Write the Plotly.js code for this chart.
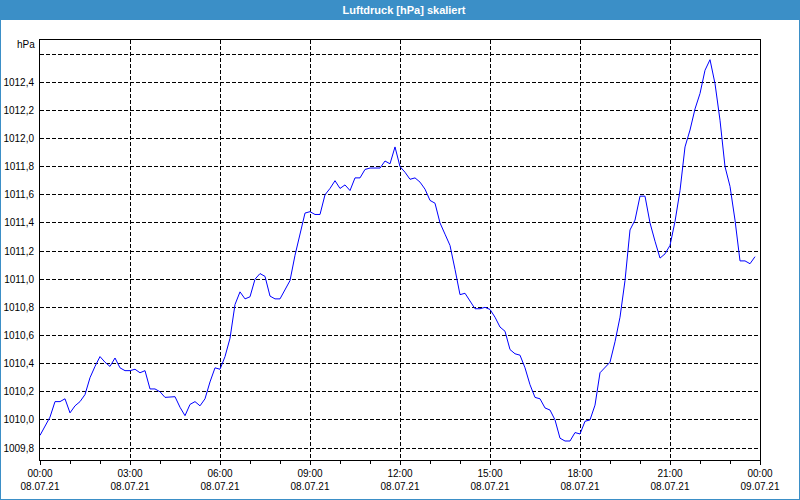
<!DOCTYPE html>
<html>
<head>
<meta charset="utf-8">
<script src="https://cdn.plot.ly/plotly-3.0.1.min.js"></script>
<style>
html,body{margin:0;padding:0;background:#ffffff;}
#chart{width:800px;height:500px;}
</style>
</head>
<body>
<div id="chart"></div>
<script>
// Air pressure readings every 10 minutes, 08.07.21 00:00 – 23:50
const startTime = '2021-07-08T00:00:00';
const stepMinutes = 10;
const pressure = [
  1009.89, 1009.95, 1010.02, 1010.13, 1010.13, 1010.15, 1010.05, 1010.10, 1010.13, 1010.18,
  1010.30, 1010.38, 1010.45, 1010.41, 1010.38, 1010.44, 1010.37, 1010.35, 1010.35, 1010.36,
  1010.335, 1010.35, 1010.22, 1010.22, 1010.20, 1010.16, 1010.165, 1010.165, 1010.09, 1010.03,
  1010.11, 1010.13, 1010.10, 1010.15, 1010.27, 1010.37, 1010.36, 1010.45, 1010.58, 1010.82,
  1010.91, 1010.86, 1010.875, 1011.00, 1011.04, 1011.02, 1010.88, 1010.86, 1010.86, 1010.92,
  1010.99, 1011.17, 1011.33, 1011.47, 1011.48, 1011.46, 1011.46, 1011.60, 1011.645, 1011.70,
  1011.645, 1011.67, 1011.63, 1011.72, 1011.72, 1011.78, 1011.79, 1011.79, 1011.79, 1011.84,
  1011.82, 1011.94, 1011.80, 1011.76, 1011.71, 1011.72, 1011.69, 1011.64, 1011.56, 1011.54,
  1011.40, 1011.32, 1011.24, 1011.07, 1010.89, 1010.90, 1010.84, 1010.79, 1010.79, 1010.80,
  1010.785, 1010.73, 1010.66, 1010.63, 1010.50, 1010.47, 1010.46, 1010.37, 1010.25, 1010.16,
  1010.15, 1010.085, 1010.07, 1010.00, 1009.87, 1009.85, 1009.85, 1009.91, 1009.90, 1009.99,
  1010.00, 1010.105, 1010.335, 1010.37, 1010.41, 1010.555, 1010.73, 1010.99, 1011.35, 1011.42,
  1011.59, 1011.59, 1011.40, 1011.27, 1011.15, 1011.18, 1011.24, 1011.41, 1011.63, 1011.94,
  1012.06, 1012.21, 1012.32, 1012.485, 1012.56, 1012.39, 1012.13, 1011.80, 1011.66, 1011.42,
  1011.13, 1011.13, 1011.11, 1011.16
];

const xTickVals = [
  '2021-07-08 00:00', '2021-07-08 03:00', '2021-07-08 06:00', '2021-07-08 09:00',
  '2021-07-08 12:00', '2021-07-08 15:00', '2021-07-08 18:00', '2021-07-08 21:00',
  '2021-07-09 00:00'
];
const xTickText = [
  '00:00<br>08.07.21', '03:00<br>08.07.21', '06:00<br>08.07.21', '09:00<br>08.07.21',
  '12:00<br>08.07.21', '15:00<br>08.07.21', '18:00<br>08.07.21', '21:00<br>08.07.21',
  '00:00<br>09.07.21'
];
const yTickVals = [1009.8, 1010.0, 1010.2, 1010.4, 1010.6, 1010.8, 1011.0, 1011.2, 1011.4, 1011.6, 1011.8, 1012.0, 1012.2, 1012.4, 1012.6];
const yTickText = ['1009,8', '1010,0', '1010,2', '1010,4', '1010,6', '1010,8', '1011,0', '1011,2', '1011,4', '1011,6', '1011,8', '1012,0', '1012,2', '1012,4', ''];

const titleText = 'Luftdruck [hPa] skaliert';
const unitLabel = 'hPa';

function pad(n){ return (n < 10 ? '0' : '') + n; }
const t0 = new Date(startTime + 'Z').getTime();
const times = pressure.map((_, i) => {
  const d = new Date(t0 + i * stepMinutes * 60000);
  return d.getUTCFullYear() + '-' + pad(d.getUTCMonth() + 1) + '-' + pad(d.getUTCDate()) + ' ' +
         pad(d.getUTCHours()) + ':' + pad(d.getUTCMinutes());
});

const FONT = 'Liberation Sans, Arial, sans-serif';
const BLUE = '#3b8fc7';

const trace = {
  x: times,
  y: pressure,
  type: 'scatter',
  mode: 'lines',
  line: {color: '#0000ff', width: 1},
  hoverinfo: 'x+y'
};

const layout = {
  width: 800,
  height: 500,
  margin: {l: 40, r: 40, t: 40, b: 40, pad: 0},
  paper_bgcolor: '#ffffff',
  plot_bgcolor: '#ffffff',
  showlegend: false,
  font: {family: FONT, size: 10, color: '#000000'},
  title: {
    text: titleText,
    font: {family: FONT, size: 11, color: '#ffffff', weight: 'bold'},
    xref: 'container', yref: 'container',
    x: 0.505, xanchor: 'center',
    y: 0.98, yanchor: 'middle'
  },
  xaxis: {
    type: 'date',
    range: ['2021-07-08 00:00', '2021-07-09 00:00'],
    tickmode: 'array',
    tickvals: xTickVals,
    ticktext: xTickText,
    ticks: 'outside',
    ticklen: 4,
    tickcolor: '#000000',
    tickfont: {family: FONT, size: 10, color: '#000000'},
    showgrid: true,
    gridcolor: '#000000',
    gridwidth: 1,
    griddash: '4px,2px',
    showline: true,
    linecolor: '#000000',
    linewidth: 1,
    mirror: true,
    zeroline: false,
    fixedrange: true,
    minor: {
      dtick: 3600000,
      tick0: '2021-07-08 00:00',
      ticks: 'outside',
      ticklen: 3,
      tickcolor: '#000000',
      showgrid: false
    }
  },
  yaxis: {
    range: [1009.715, 1012.70],
    tickmode: 'array',
    tickvals: yTickVals,
    ticktext: yTickText,
    ticks: '',
    ticklabelstandoff: 3,
    tickfont: {family: FONT, size: 10, color: '#000000'},
    showgrid: true,
    gridcolor: '#000000',
    gridwidth: 1,
    griddash: '4px,2px',
    showline: true,
    linecolor: '#000000',
    linewidth: 1,
    mirror: true,
    zeroline: false,
    fixedrange: true
  },
  shapes: [
    {type: 'rect', xref: 'paper', yref: 'paper', x0: -40/720, x1: 1 + 40/720, y0: 1 + 20/420, y1: 1 + 40/420,
     fillcolor: BLUE, line: {width: 0}, layer: 'below'},
    {type: 'rect', xref: 'paper', yref: 'paper', x0: -40/720, x1: 1 + 40/720, y0: -40/420, y1: 1 + 40/420,
     fillcolor: 'rgba(0,0,0,0)', line: {color: BLUE, width: 2}, layer: 'below'}
  ],
  annotations: [
    {text: unitLabel, xref: 'paper', yref: 'paper', x: -3/720, y: 415/420, xanchor: 'right', yanchor: 'middle',
     showarrow: false, font: {family: FONT, size: 10, color: '#000000'}}
  ]
};

Plotly.newPlot('chart', [trace], layout, {staticPlot: true, displayModeBar: false});
</script>
</body>
</html>
